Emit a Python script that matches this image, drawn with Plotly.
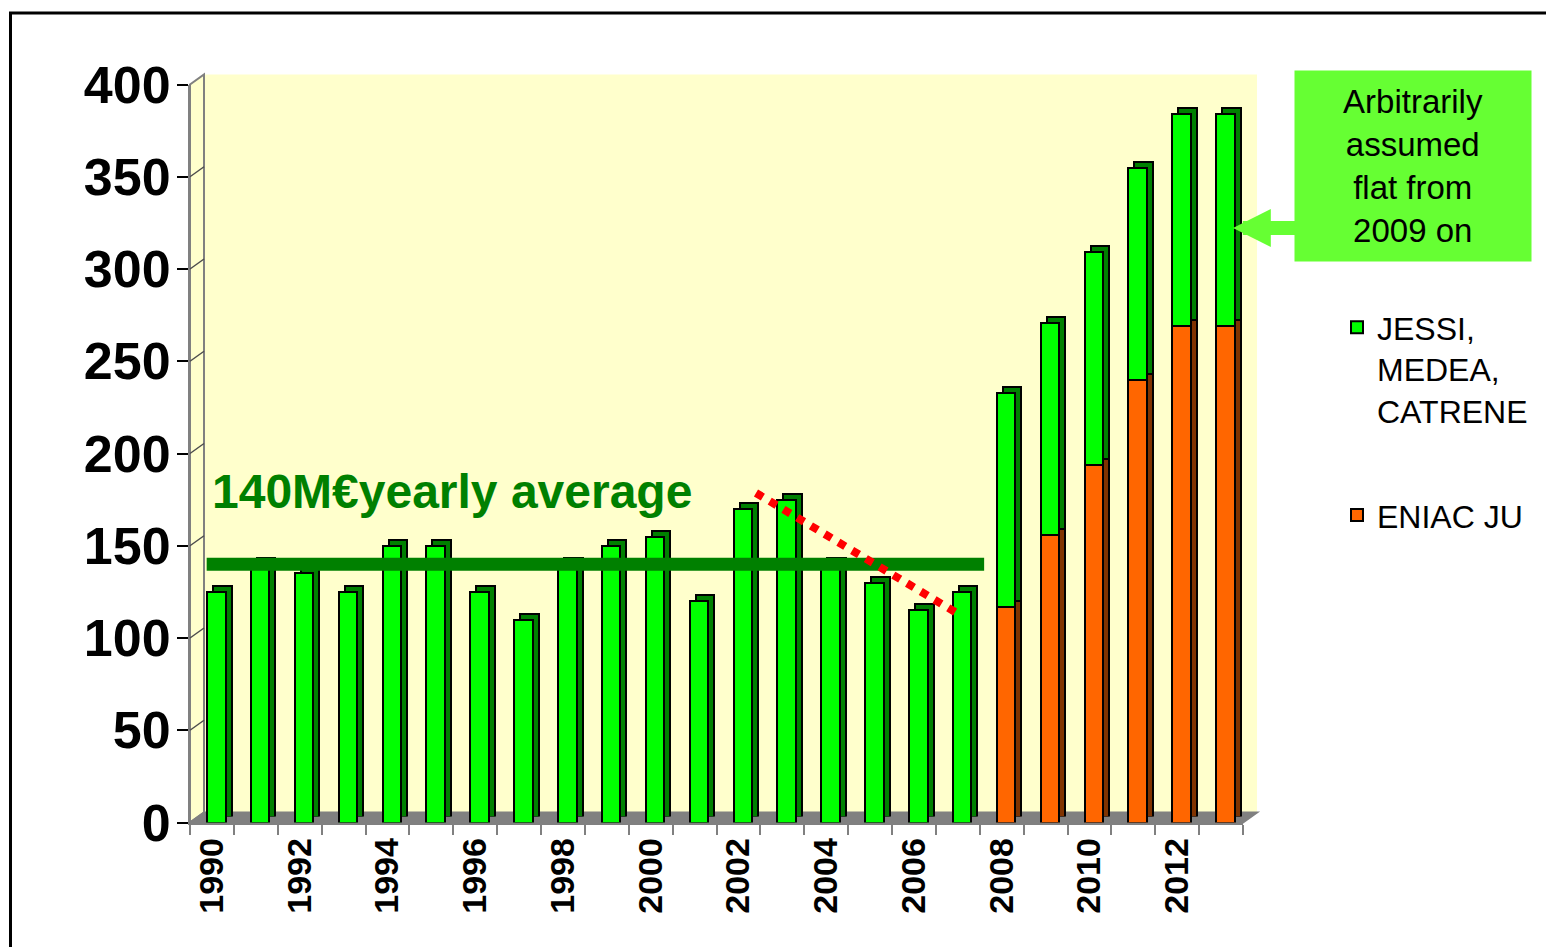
import plotly.graph_objects as go

# data (M€ per year)
years = list(range(1990, 2014))
jessi_medea_catrene = [125, 140, 135, 125, 150, 150, 125, 110, 140, 150, 155, 120,
                       170, 175, 140, 130, 115, 125, 116, 115, 115, 115, 115, 115]
eniac_ju = [None] * 18 + [117, 156, 194, 240, 269, 269]
tick_years = list(range(1990, 2013, 2))
y_ticks = list(range(0, 401, 50))

# 140 M€ average line and the falling trend (dotted red)
avg_x = [1989.88, 2007.6]
avg_y = [140, 140]
trend_x = [2002.4, 2007.05]
trend_y = [178.6, 112.5]

W, H = 1546, 947
FONT = "Arial, Liberation Sans, sans-serif"

GREEN, GREEN_SIDE = "#00FF00", "#008000"
ORANGE, ORANGE_SIDE = "#FF6600", "#803300"
WALL = "#FFFFCC"
GREY = "#808080"


def px(x):
    return x / W


def py(y):
    return 1 - y / H


# front plane of the 3D box, in pixels
FX0, FX1, FY0, FY1 = 190, 1243, 84.5, 822.5
DX, DY = 14, 10     # depth of the walls
BX, BY = 6, 6       # depth of the bars

fig = go.Figure()

# bar sides / tops (shifted subplot, drawn first)
fig.add_trace(go.Bar(x=years, y=eniac_ju, xaxis="x2", yaxis="y2", width=0.42, offset=-0.11,
                     marker=dict(color=ORANGE_SIDE, line=dict(color="black", width=2)),
                     showlegend=False, hoverinfo="skip"))
fig.add_trace(go.Bar(x=years, y=jessi_medea_catrene, xaxis="x2", yaxis="y2", width=0.42, offset=-0.11,
                     marker=dict(color=GREEN_SIDE, line=dict(color="black", width=2)),
                     showlegend=False, hoverinfo="skip"))

# front faces
fig.add_trace(go.Bar(x=years, y=eniac_ju, xaxis="x3", yaxis="y3", width=0.42, offset=-0.11,
                     name="ENIAC JU", legendgroup="b", legendrank=2,
                     marker=dict(color=ORANGE, line=dict(color="black", width=2))))
fig.add_trace(go.Bar(x=years, y=jessi_medea_catrene, xaxis="x3", yaxis="y3", width=0.42, offset=-0.11,
                     name="JESSI,<br>MEDEA,<br>CATRENE", legendgroup="a", legendrank=1,
                     marker=dict(color=GREEN, line=dict(color="black", width=2))))

fig.add_trace(go.Scatter(x=avg_x, y=avg_y, xaxis="x3", yaxis="y3", mode="lines",
                         line=dict(color="#008000", width=13), showlegend=False))
fig.add_trace(go.Scatter(x=trend_x, y=trend_y, xaxis="x3", yaxis="y3", mode="lines",
                         line=dict(color="#FF0000", width=8, dash="dot"), showlegend=False))

shapes = [
    # back wall
    dict(type="rect", xref="paper", yref="paper", x0=px(FX0 + DX), x1=px(FX1 + DX),
         y0=py(FY1 - DY), y1=py(FY0 - DY), fillcolor=WALL, line=dict(width=0), layer="below"),
    # left wall
    dict(type="path", xref="paper", yref="paper", fillcolor=WALL, layer="below",
         line=dict(color=GREY, width=2),
         path=f"M{px(FX0)},{py(FY1)} L{px(FX0)},{py(FY0)} L{px(FX0 + DX)},{py(FY0 - DY)} "
              f"L{px(FX0 + DX)},{py(FY1 - DY)} Z"),
    # floor
    dict(type="path", xref="paper", yref="paper", fillcolor=GREY, layer="below",
         line=dict(color=GREY, width=2),
         path=f"M{px(FX0)},{py(FY1)} L{px(FX1)},{py(FY1)} L{px(FX1 + DX)},{py(FY1 - DY)} "
              f"L{px(FX0 + DX)},{py(FY1 - DY)} Z"),
    # outer frame
    dict(type="rect", xref="paper", yref="paper", x0=px(10.5), x1=1.02, y0=-0.02, y1=py(13),
         line=dict(color="black", width=3), fillcolor="rgba(0,0,0,0)"),
]
# grid lines running across the left wall
scale = (FY1 - FY0) / 400
for v in y_ticks[1:-1]:
    shapes.append(dict(type="line", xref="paper", yref="paper",
                       x0=px(FX0), y0=py(FY1 - v * scale),
                       x1=px(FX0 + DX), y1=py(FY1 - DY - v * scale),
                       line=dict(color="#4d4d4d", width=1.5)))

annotations = [
    dict(text="140M€yearly average", xref="paper", yref="paper", x=px(210), y=py(491),
         xanchor="left", yanchor="middle", showarrow=False,
         font=dict(family=FONT, size=48, color="#008000", weight="bold")),
    dict(text="", xref="paper", yref="paper", x=px(1233), y=py(228), ax=75, ay=0,
         showarrow=True, arrowhead=2, arrowsize=0.54, arrowwidth=14, arrowcolor="#66FF33",
         standoff=0),
    dict(text="Arbitrarily<br>assumed<br>flat from<br>2009 on", xref="paper", yref="paper",
         x=px(1412.5), y=py(165.5), xanchor="center", yanchor="middle", showarrow=False,
         width=236, height=190, bgcolor="#66FF33", borderpad=0,
         font=dict(family=FONT, size=33, color="black")),
]

fig.update_layout(
    width=W, height=H,
    margin=dict(l=0, r=0, t=0, b=0, autoexpand=False),
    paper_bgcolor="white",
    plot_bgcolor="rgba(0,0,0,0)",
    barmode="stack",
    font=dict(family=FONT, color="black"),
    shapes=shapes,
    annotations=annotations,
    legend=dict(x=px(1337), y=py(300), xanchor="left", yanchor="top",
                traceorder="grouped", tracegroupgap=60, valign="top",
                bgcolor="rgba(0,0,0,0)", font=dict(family=FONT, size=32, color="black")),
    # back wall with its grid
    xaxis=dict(domain=[px(FX0 + DX), px(FX1 + DX)], range=[0, 1], anchor="y", automargin=False,
               showgrid=False, zeroline=False, showticklabels=False, ticks="",
               showline=True, mirror=True, linecolor=GREY, linewidth=3),
    yaxis=dict(domain=[py(FY1 - DY), py(FY0 - DY)], range=[0, 400], anchor="x", automargin=False,
               tickvals=y_ticks, showgrid=True, gridcolor="#4d4d4d", gridwidth=1.5,
               zeroline=False, showticklabels=False, ticks="",
               showline=True, mirror=True, linecolor=GREY, linewidth=3),
    # bar depth
    xaxis2=dict(domain=[px(FX0 + BX), px(FX1 + BX)], range=[1989.5, 2013.5], anchor="y2",
                visible=False, automargin=False),
    yaxis2=dict(domain=[py(FY1 - BY), py(FY0 - BY)], range=[0, 400], anchor="x2",
                visible=False, automargin=False),
    # front plane
    xaxis3=dict(domain=[px(FX0), px(FX1)], range=[1989.5, 2013.5], anchor="y3", automargin=False,
                tickvals=tick_years, ticktext=[str(y) for y in tick_years], tickangle=-90,
                tickfont=dict(family=FONT, size=34, color="black", weight="bold"),
                ticks="", ticklabelstandoff=0, showgrid=False, zeroline=False,
                showline=True, linecolor=GREY, linewidth=2,
                minor=dict(tick0=1989.5, dtick=1, ticks="outside", ticklen=10,
                           tickcolor=GREY, tickwidth=1.5)),
    yaxis3=dict(domain=[py(FY1), py(FY0)], range=[0, 400], anchor="x3", automargin=False,
                tickvals=y_ticks, tickfont=dict(family=FONT, size=52, color="black", weight="bold"),
                ticks="outside", ticklen=11, tickcolor="black", tickwidth=1.5, ticklabelstandoff=-4,
                showgrid=False, zeroline=False, showline=True, linecolor=GREY, linewidth=2),
)

fig.write_html("out.html", config={"displayModeBar": False},
               post_script="document.body.style.margin='0';")
